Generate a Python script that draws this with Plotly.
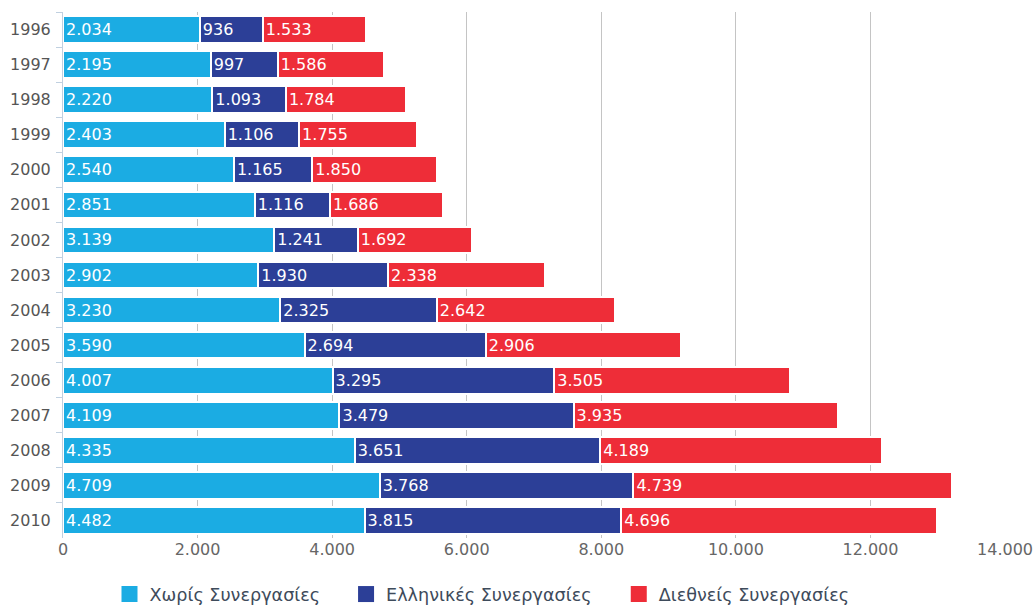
import plotly.graph_objects as go

years = ["1996", "1997", "1998", "1999", "2000", "2001", "2002", "2003",
         "2004", "2005", "2006", "2007", "2008", "2009", "2010"]
no_collab = [2034, 2195, 2220, 2403, 2540, 2851, 3139, 2902,
             3230, 3590, 4007, 4109, 4335, 4709, 4482]
greek_collab = [936, 997, 1093, 1106, 1165, 1116, 1241, 1930,
                2325, 2694, 3295, 3479, 3651, 3768, 3815]
intl_collab = [1533, 1586, 1784, 1755, 1850, 1686, 1692, 2338,
               2642, 2906, 3505, 3935, 4189, 4739, 4696]

series_names = ["Χωρίς Συνεργασίες", "Ελληνικές Συνεργασίες", "Διεθνείς Συνεργασίες"]
series_values = [no_collab, greek_collab, intl_collab]
colors = ["#1BACE3", "#2C3F97", "#EE2D38"]
legend_ids = ["legend", "legend2", "legend3"]
legend_x = [0.106, 0.335, 0.599]

font_family = "DejaVu Sans, Verdana, sans-serif"

fig = go.Figure()
for name, vals, col in zip(series_names, series_values, colors):
    fig.add_trace(go.Bar(
        y=years, x=vals, name=name, orientation="h", legendgroup=name,
        showlegend=False,
        marker=dict(color=col, line=dict(color="white", width=2)),
        texttemplate="%{x:,}", textposition="inside",
        insidetextanchor="start", constraintext="none",
        textfont=dict(color="white", size=16, family=font_family),
        width=0.76,
    ))

# Legend keys: larger square swatches than the default bar symbol
for name, col, lid in zip(series_names, colors, legend_ids):
    fig.add_trace(go.Scatter(
        x=[None], y=[None], mode="markers", name=name, legendgroup=name,
        legend=lid,
        marker=dict(symbol="square", size=18, color=col),
        showlegend=True, hoverinfo="skip",
    ))

legend_style = dict(xref="container", yref="container", y=0.018,
                    yanchor="middle", xanchor="left",
                    font=dict(size=17.6, color="#3E4B5B"),
                    bgcolor="rgba(0,0,0,0)", itemsizing="trace")

fig.update_layout(
    barmode="stack",
    separators=",.",
    width=1033, height=605,
    margin=dict(l=63, r=28, t=12, b=67, autoexpand=False),
    paper_bgcolor="white", plot_bgcolor="white",
    font=dict(family=font_family, size=16, color="#555"),
    bargap=0.22,
    legend=dict(x=legend_x[0], **legend_style),
    legend2=dict(x=legend_x[1], **legend_style),
    legend3=dict(x=legend_x[2], **legend_style),
    xaxis=dict(range=[0, 14000], tickvals=list(range(0, 14001, 2000)),
               tickformat=",", showgrid=True, gridcolor="#C4C4C4",
               gridwidth=1, zeroline=False, showline=False,
               tickfont=dict(size=16, color="#666")),
    yaxis=dict(autorange="reversed", type="category", tickson="boundaries",
               ticks="outside", ticklen=6, tickcolor="#C0D0E0",
               ticklabelstandoff=8,
               showline=True, linecolor="#C0D0E0", linewidth=1,
               showgrid=False, tickfont=dict(size=16, color="#555")),
)

fig.write_html("out.html")
